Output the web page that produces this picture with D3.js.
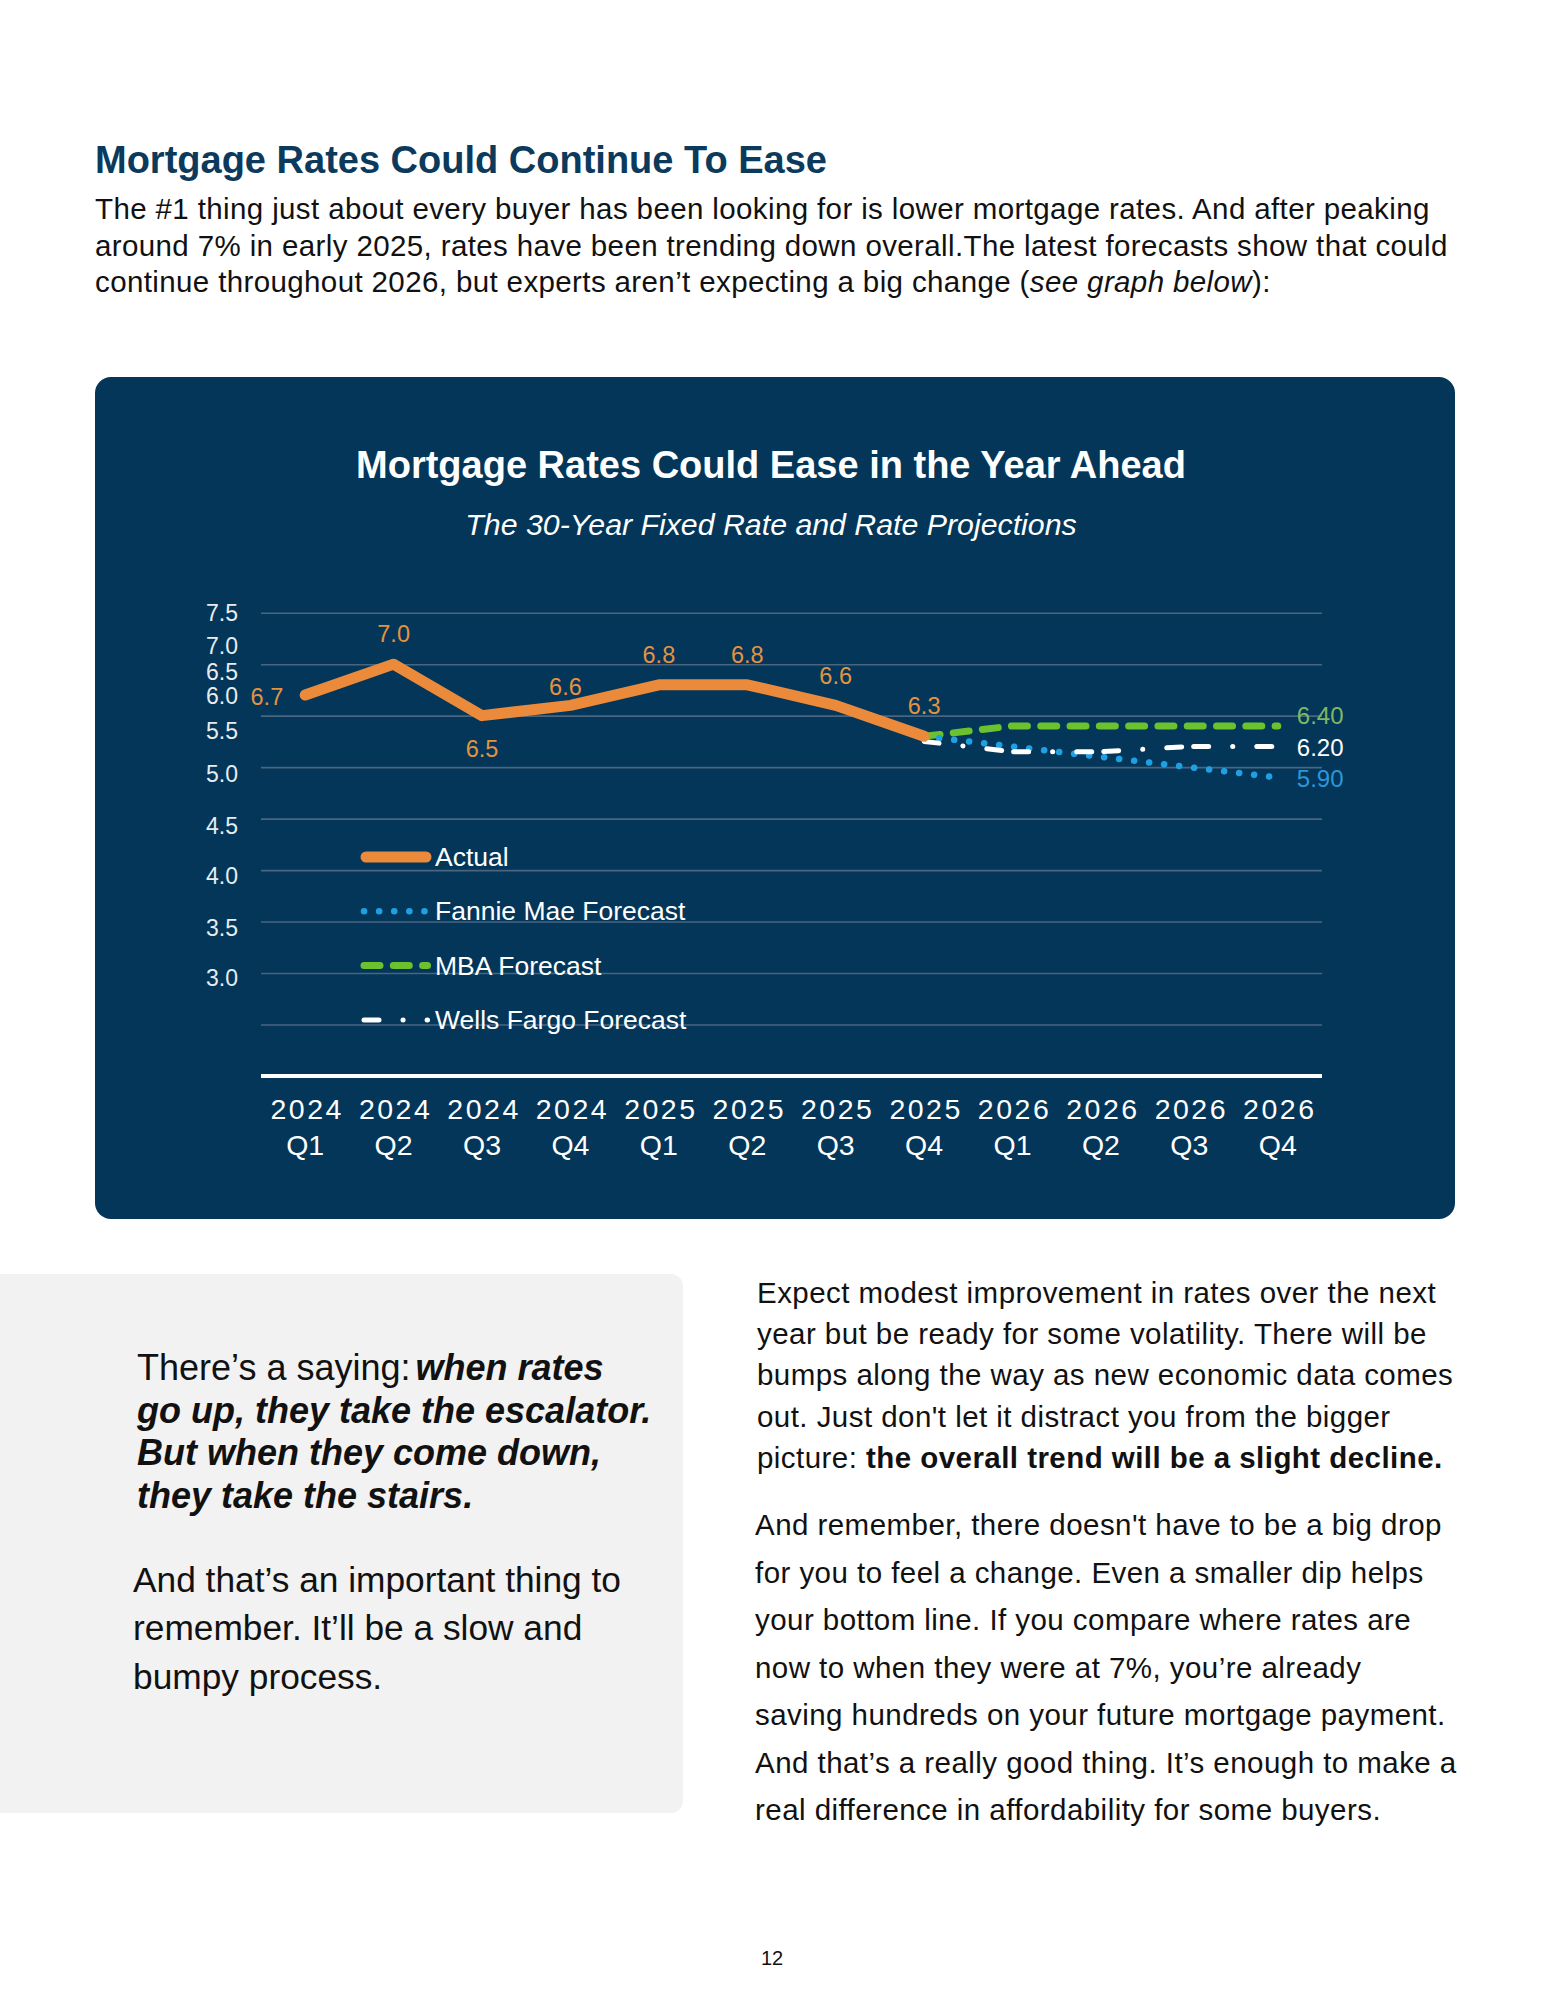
<!DOCTYPE html>
<html>
<head>
<meta charset="utf-8">
<script src="https://cdn.jsdelivr.net/npm/d3@7"></script>
<style>
  html, body { margin: 0; padding: 0; background: #fff; }
  svg { display: block; font-family: "Liberation Sans", Arial, Helvetica, sans-serif; }
</style>
</head>
<body>
<div id="page"></div>
<script>
// ─── Chart data ──────────────────────────────────────────────────────────────
const quarters = ['2024 Q1', '2024 Q2', '2024 Q3', '2024 Q4', '2025 Q1', '2025 Q2',
                  '2025 Q3', '2025 Q4', '2026 Q1', '2026 Q2', '2026 Q3', '2026 Q4'];
const actualQuarters = quarters.slice(0, 8);
const forecastQuarters = quarters.slice(7);

const actualRates = [6.7, 7.0, 6.5, 6.6, 6.8, 6.8, 6.6, 6.3];
const fannieMaeRates = [6.3, 6.2, 6.1, 6.0, 5.9];
const mbaRates = [6.3, 6.4, 6.4, 6.4, 6.4];
const wellsFargoRates = [6.25, 6.15, 6.15, 6.2, 6.2];

const gridValues = [3.5, 4.0, 4.5, 5.0, 5.5, 6.0, 6.5, 7.0, 7.5];
// the tick labels in the original sit out of step with the gridlines
const yTickLabels = ['7.5', '7.0', '6.5', '6.0', '5.5', '5.0', '4.5', '4.0', '3.5', '3.0'];
const yTickLabelAt = [7.5, 7.18, 6.92, 6.69, 6.35, 5.93, 5.43, 4.94, 4.44, 3.95];

const series = [
    { name: 'Actual', values: actualRates, cats: actualQuarters },
    { name: 'Fannie Mae Forecast', values: fannieMaeRates, cats: forecastQuarters },
    { name: 'MBA Forecast', values: mbaRates, cats: forecastQuarters },
    { name: 'Wells Fargo Forecast', values: wellsFargoRates, cats: forecastQuarters }
];

// ─── Styles ─────────────────────────────────────────────────────────────────
const NAVY = '#033659';
const styles = {
    'Actual':               { stroke: '#ec8a3c', width: 11, dash: null, offset: 0 },
    'Fannie Mae Forecast':  { stroke: '#1ea0e2', width: 6.5, dash: '0.1,15', offset: 0 },
    'MBA Forecast':         { stroke: '#6cc22e', width: 7, dash: '16,13.3', offset: 0 },
    'Wells Fargo Forecast': { stroke: '#ffffff', width: 5, dash: '15,12,15,24,0.1,24', offset: 27 }
};

const W = 1545, H = 2000;
const svg = d3.select('#page').append('svg').attr('width', W).attr('height', H);

// ─── Text helper: lines made of [text, style] segments ──────────────────────
function textBlock(g, lines, o) {
    lines.forEach((segs, i) => {
        const t = g.append('text')
            .attr('x', o.x)
            .attr('y', o.y + i * o.dy)
            .style('font-size', o.size + 'px')
            .style('fill', o.fill || '#111')
            .style('letter-spacing', (o.ls || 0) + 'px');
        segs.forEach(([s, st]) => {
            const ts = t.append('tspan').text(s);
            if (st && st.includes('b')) ts.style('font-weight', 'bold');
            if (st && st.includes('i')) ts.style('font-style', 'italic');
            if (st && st.includes('d')) ts.attr('dx', 5);
        });
    });
}

// ─── Page text above the chart ──────────────────────────────────────────────
svg.append('text')
    .attr('x', 95).attr('y', 173)
    .text('Mortgage Rates Could Continue To Ease')
    .style('font-size', '38px').style('font-weight', 'bold').style('fill', '#0b3a5c');

textBlock(svg, [
    [['The #1 thing just about every buyer has been looking for is lower mortgage rates. And after peaking']],
    [['around 7% in early 2025, rates have been trending down overall.The latest forecasts show that could']],
    [['continue throughout 2026, but experts aren\u2019t expecting a big change ('], ['see graph below', 'i'], ['):']]
], { x: 95, y: 219, dy: 36.5, size: 29.5, ls: 0.38 });

// ─── Chart card ─────────────────────────────────────────────────────────────
svg.append('rect')
    .attr('x', 95).attr('y', 377).attr('width', 1360).attr('height', 842)
    .attr('rx', 16).attr('ry', 16)
    .style('fill', NAVY);

svg.append('text')
    .attr('x', 771).attr('y', 478)
    .attr('text-anchor', 'middle')
    .text('Mortgage Rates Could Ease in the Year Ahead')
    .style('font-size', '38px').style('font-weight', 'bold').style('fill', '#fff');

svg.append('text')
    .attr('x', 771).attr('y', 535)
    .attr('text-anchor', 'middle')
    .text('The 30-Year Fixed Rate and Rate Projections')
    .style('font-size', '30.3px').style('font-style', 'italic').style('fill', '#fff');

// ─── Scales ─────────────────────────────────────────────────────────────────
const x = d3.scaleBand().domain(quarters).range([261, 1322]);
const y = d3.scaleLinear().domain([3.0, 7.5]).range([1076, 612.7]);
const cx = q => x(q) + x.bandwidth() / 2;

const plot = svg.append('g');

// Gridlines
const grid = plot.append('g')
    .attr('transform', `translate(${x.range()[0]},0)`)
    .call(d3.axisLeft(y).tickValues(gridValues).tickFormat('')
        .tickSize(-(x.range()[1] - x.range()[0])));
grid.select('.domain').remove();
grid.selectAll('.tick line').style('stroke', '#4a6580').style('stroke-width', 1.6);

// Baseline
plot.append('line')
    .attr('x1', x.range()[0]).attr('x2', x.range()[1])
    .attr('y1', y(3.0)).attr('y2', y(3.0))
    .style('stroke', '#fff').style('stroke-width', 4);

// Y tick labels
plot.append('g').selectAll('text')
    .data(yTickLabels)
    .enter().append('text')
    .attr('x', 238)
    .attr('y', (d, i) => y(yTickLabelAt[i]))
    .attr('dy', '0.35em')
    .attr('text-anchor', 'end')
    .text(d => d)
    .style('font-size', '23px')
    .style('fill', '#e8ecef');

// X labels (year over quarter)
const xl = plot.append('g').selectAll('g')
    .data(quarters)
    .enter().append('g')
    .attr('transform', d => `translate(${cx(d)},0)`);
xl.append('text')
    .attr('y', 1119).attr('x', 2)
    .attr('text-anchor', 'middle')
    .text(d => d.split(' ')[0])
    .style('font-size', '28.5px').style('letter-spacing', '2.5px').style('fill', '#fff');
xl.append('text')
    .attr('y', 1155)
    .attr('text-anchor', 'middle')
    .text(d => d.split(' ')[1])
    .style('font-size', '28.5px').style('fill', '#fff');

// ─── Lines ──────────────────────────────────────────────────────────────────
const drawOrder = ['MBA Forecast', 'Fannie Mae Forecast', 'Wells Fargo Forecast', 'Actual'];
drawOrder.forEach(name => {
    const s = series.find(d => d.name === name);
    const st = styles[name];
    const line = d3.line()
        .x((d, i) => cx(s.cats[i]))
        .y(d => y(d));
    plot.append('path')
        .datum(s.values)
        .attr('d', line)
        .attr('fill', 'none')
        .style('stroke', st.stroke)
        .style('stroke-width', st.width)
        .style('stroke-linecap', 'round')
        .style('stroke-linejoin', 'round')
        .style('stroke-dasharray', st.dash)
        .style('stroke-dashoffset', st.offset);
});

// Data labels on the actual series
const labelPlace = { 0: 'left', 2: 'below', 3: 'near' };
plot.append('g').selectAll('text')
    .data(actualRates)
    .enter().append('text')
    .attr('x', (d, i) => labelPlace[i] === 'left' ? cx(actualQuarters[i]) - 22
                      : labelPlace[i] === 'near' ? cx(actualQuarters[i]) - 5
                      : cx(actualQuarters[i]))
    .attr('y', (d, i) => y(d) + (labelPlace[i] === 'below' ? 33 : labelPlace[i] === 'near' ? -19 : labelPlace[i] === 'left' ? 2 : -30))
    .attr('dy', '0.35em')
    .attr('text-anchor', (d, i) => labelPlace[i] === 'left' ? 'end' : 'middle')
    .text(d => d.toFixed(1))
    .style('font-size', '23.5px')
    .style('fill', '#e39340');

// End labels on the forecasts
const endLabels = [
    { s: 'MBA Forecast', fill: '#7db863', shift: -10 },
    { s: 'Wells Fargo Forecast', fill: '#ffffff', shift: 1 },
    { s: 'Fannie Mae Forecast', fill: '#2e96d6', shift: 1 }
];
endLabels.forEach(e => {
    const s = series.find(d => d.name === e.s);
    const last = s.values[s.values.length - 1];
    plot.append('text')
        .attr('x', cx(s.cats[s.cats.length - 1]) + 19)
        .attr('y', y(last) + e.shift)
        .attr('dy', '0.35em')
        .text(last.toFixed(2))
        .style('font-size', '24px')
        .style('fill', e.fill);
});

// ─── Legend ─────────────────────────────────────────────────────────────────
const legend = plot.append('g');
series.forEach((s, i) => {
    const st = styles[s.name];
    const ly = 857 + i * 54.3;
    const isSolid = !st.dash;
    legend.append('line')
        .attr('x1', isSolid ? 366 : 364).attr('x2', isSolid ? 426 : 427.5)
        .attr('y1', ly).attr('y2', ly)
        .style('stroke', st.stroke)
        .style('stroke-width', st.width)
        .style('stroke-linecap', 'round')
        .style('stroke-dasharray', st.dash)
        .style('stroke-dashoffset', st.offset);
    legend.append('text')
        .attr('x', 435).attr('y', ly + 9)
        .text(s.name)
        .style('font-size', '26.5px')
        .style('fill', '#fff');
});

// ─── Lower section ──────────────────────────────────────────────────────────
svg.append('rect')
    .attr('x', -20).attr('y', 1274).attr('width', 703).attr('height', 539)
    .attr('rx', 12).attr('ry', 12)
    .style('fill', '#f1f2f1');

textBlock(svg, [
    [['There\u2019s a saying:'], ['when rates', 'bid']],
    [['go up, they take the escalator.', 'bi']],
    [['But when they come down,', 'bi']],
    [['they take the stairs.', 'bi']]
], { x: 137, y: 1380, dy: 42.5, size: 36 });

textBlock(svg, [
    [['And that\u2019s an important thing to']],
    [['remember. It\u2019ll be a slow and']],
    [['bumpy process.']]
], { x: 133, y: 1592, dy: 48.3, size: 35.3 });

textBlock(svg, [
    [['Expect modest improvement in rates over the next']],
    [['year but be ready for some volatility. There will be']],
    [['bumps along the way as new economic data comes']],
    [['out. Just don\'t let it distract you from the bigger']],
    [['picture: '], ['the overall trend will be a slight decline.', 'b']]
], { x: 757, y: 1303, dy: 41.2, size: 29.5, ls: 0.45 });

textBlock(svg, [
    [['And remember, there doesn\'t have to be a big drop']],
    [['for you to feel a change. Even a smaller dip helps']],
    [['your bottom line. If you compare where rates are']],
    [['now to when they were at 7%, you\u2019re already']],
    [['saving hundreds on your future mortgage payment.']],
    [['And that\u2019s a really good thing. It\u2019s enough to make a']],
    [['real difference in affordability for some buyers.']]
], { x: 755, y: 1535, dy: 47.5, size: 29.5, ls: 0.45 });

svg.append('text')
    .attr('x', 772).attr('y', 1965)
    .attr('text-anchor', 'middle')
    .text('12')
    .style('font-size', '20px').style('fill', '#111');
</script>
</body>
</html>
